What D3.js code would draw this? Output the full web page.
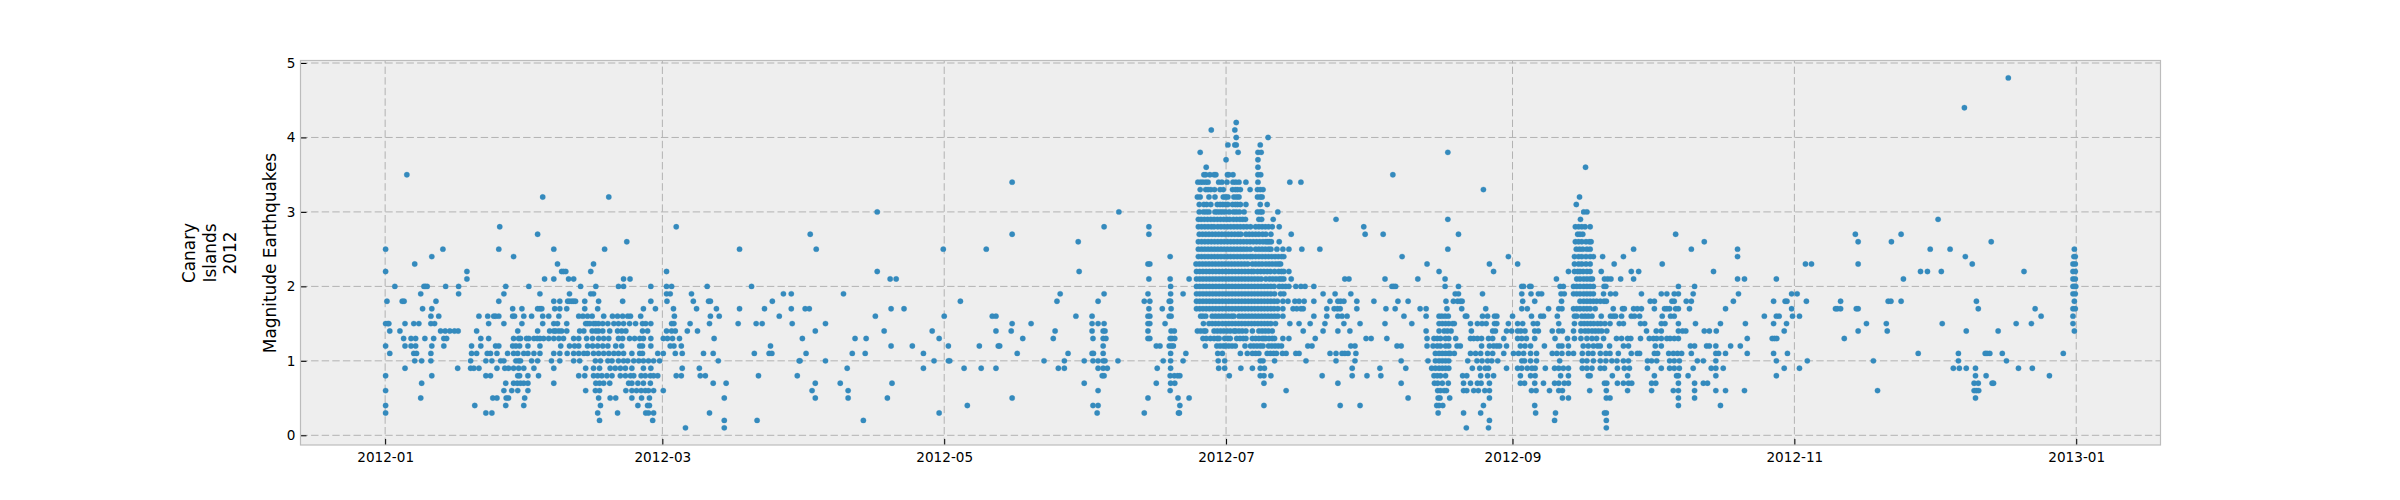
<!DOCTYPE html>
<html><head><meta charset="utf-8"><style>html,body{margin:0;background:#fff}svg{display:block}text{font-family:"DejaVu Sans",sans-serif;fill:#000}</style>
<script src="https://cdn.jsdelivr.net/npm/d3@7"></script></head><body><svg id="c" width="2400" height="500"></svg>
<script>
// Days since 2012-01-01 of each event, one array per magnitude
const mag48=[351.3];
const mag44=[341.8];
const mag42=[184.2];
const mag41=[178.8,183.9];
const mag40=[184.2,191.1];
const mag39=[182.4,183.9,184.2,189.4];
const mag38=[176.4,184.6,188.9,189.6,230];
const mag37=[182,188.9];
const mag36=[177.7,188.9,259.8];
const mag35=[4.7,177.2,177.6,178.5,179.4,179.8,182.3,182.6,183.5,188.9,189.5,218.1];
const mag34=[135.7,175.9,176.5,177,177.6,178.1,180.4,181.1,182.2,183.5,184.1,184.8,186.3,188.9,195.8,198.2];
const mag33=[176.4,177.6,178.1,178.7,179.5,180.7,181.4,183.4,184,184.5,185.1,187.2,188.8,189.4,190,237.7];
const mag32=[34.1,48.4,175.8,176.4,178.3,179.6,181.4,181.9,182.4,183.7,184.3,184.8,188.8,189.4,189.8,258.5];
const mag31=[176.2,177.2,177.8,178.7,180.1,180.7,181.3,181.9,182.4,183.4,184,184.5,185.1,186.3,189.4,190.9,257.8];
const mag30=[106.5,158.8,176.2,177.1,177.7,178.3,179.6,180.1,180.7,181.3,181.9,182.7,183.6,184.2,184.9,185.9,188.8,189.4,189.8,193.2,259.4,260.1];
const mag29=[176,176.6,177.3,178,178.7,179.4,180.1,180.8,181.5,182.2,182.8,183.6,184.3,185,185.6,186.2,189.1,189.7,192.2,205.8,230,258.7,336.1];
const mag28=[24.8,63,155.6,165.3,176,176.7,177.4,178.1,178.8,179.4,180.2,180.9,181.6,182.3,183,183.7,184.4,185.1,185.8,186.5,187.3,188.4,189.1,189.8,190.5,191.2,192,193.5,211.8,257.6,258.3,259,259.7,260.8];
const mag27=[33,92,135.7,165.3,176.2,176.9,177.6,178.3,179,179.7,180.4,181.1,181.8,182.5,183.2,183.9,184.6,185.2,186.3,187,187.7,188.4,189.1,189.9,190.6,191.7,196.1,212.1,216,232.3,258.1,258.6,259.2,279.3,318.2,328.1];
const mag26=[52.3,150,176,176.7,177.4,178.1,178.8,179.5,180.2,180.9,181.6,182.3,183,183.7,184.4,185.1,185.8,186.5,187.2,187.9,188.6,189.3,190,190.6,191,191.4,191.8,193.5,257.6,258.3,259,259.9,260.6,261,285.5,318.8,326,347.6];
const mag25=[0.1,12.5,24.6,36.5,47.5,76.7,93.3,120.8,130.1,176,176.7,177.4,178.1,178.8,179.5,180.2,180.9,181.6,182.3,183,183.7,184.4,185.1,185.8,186.5,187.3,188.4,189.1,189.8,190.5,191.2,191.7,193,194.3,195.6,198.4,202.3,230,257.8,258.5,259.2,260.1,260.8,270.2,282.7,292.7,334.4,338.7,365.6];
const mag24=[10.1,27.8,169.9,176,176.7,177.4,178.1,178.8,179.5,180.2,180.9,181.6,182.3,183,183.7,184.4,185.1,185.8,186.5,187.2,187.7,188.4,189.1,189.8,190.5,191.2,191.9,192.6,193.3,194,194.5,220.1,243.1,257.4,258.3,259,259.9,260.8,261.5,263.5,268,292.7,342,365.5,365.8];
const mag23=[6.4,37.3,45.1,165.1,165.5,175.5,176.2,176.9,177.6,178.3,179,179.7,180.4,181.1,181.8,182.5,183.2,183.9,184.6,185.3,186,186.7,187.7,188.4,189.1,189.8,190.6,191.3,192,192.7,193.3,193.8,225.5,239,245.1,257.4,258.3,259,259.9,260.8,266,276.4,307.4,308.7,318.8,343.5,365.3,365.8];
const mag22=[0.1,17.7,38.2,38.6,39.1,44.5,60.9,106.5,150.2,175.6,176.3,177,177.7,178.4,179.1,179.8,180.5,181.2,181.9,182.6,183.3,184,184.7,185.4,186.1,186.8,187.5,188,188.8,189.5,190.2,190.9,191.6,192.5,193.4,194,194.5,195.6,228.1,239.9,256.1,257.4,258.1,258.6,259.3,260.1,260.8,263.2,269.7,271.3,287.5,332.3,333.8,336.8,354.7,365.3,365.8];
const mag21=[17.7,34.5,36.5,39.7,40.8,51.6,53,109.3,110.6,165.3,169.9,174,175.6,176.3,177,177.7,178.4,179.1,179.8,180.5,181.2,181.9,182.6,183.3,184,184.7,185.4,186.1,186.8,187.5,188.2,188.9,189.6,190.6,191.4,192.1,192.8,193.5,194,194.5,196.1,207.7,208.6,216.4,223.5,229.4,253.5,257.9,258.6,259.4,260.1,260.8,261.3,263.9,264.6,265.3,267.4,270.2,292.7,294.2,301.1,328.6,365.3,365.8];
const mag20=[2.1,8.4,8.7,9.1,13.1,15.9,26.1,31.1,42.3,45.6,50.5,51.6,57.5,60.9,62,69.7,79.3,170,175.6,176.3,177,177.7,178.4,179.1,179.8,180.5,181.2,181.9,182.6,183.3,184,184.7,185.4,186.1,186.8,187.5,188.2,188.9,189.6,190.3,191,191.7,192.4,193.5,194.2,194.9,195.6,197.1,198.2,199.1,201,217.9,218.3,218.7,229.4,232.3,246,246.4,247.7,248,254.3,255,257.2,257.9,258.6,259.4,260.1,260.8,261.5,263.8,264.2,279.9,283.4,365.3,365.6,365.9];
const mag19=[7.7,15.9,25.7,33.5,39.9,44.5,45.1,60.9,61.7,66.3,86.2,87.9,99.2,146.1,155.6,165.1,170,172.7,175.6,176.3,177,177.7,178.4,179.1,179.8,180.5,181.2,181.9,182.6,183.3,184,184.7,185.4,186.1,186.8,187.5,188.2,188.9,189.6,190.3,191,191.7,192.5,193.8,194.5,203,205.6,209,231.6,232.3,237.5,246,248,249.6,250.3,254.5,255.2,257.2,257.9,258.6,259.4,260.1,260.8,261.5,263.7,265.2,266.3,271.9,276.2,277.4,279,279.9,283.1,292.9,304.4,305.6,365.3,365.8];
const mag18=[0.4,3.7,4.1,11,24.6,36.5,37.8,39.5,39.9,40.4,40.8,41.2,43.2,46.2,51.4,57.5,61,66.7,70,70.4,83.8,124.5,145.4,154.3,164.3,165.5,169.7,170,175.6,176.3,177,177.7,178.4,179.1,179.8,180.5,181.2,181.9,182.6,183.3,184,184.7,185.4,186.1,186.8,187.5,188.2,188.9,189.6,190.3,191,191.7,192.4,193.1,194.3,195.4,196.9,197.8,198.9,201,204.5,206.2,206.8,207.5,210.3,214,219.2,221.4,229.6,231.2,232.1,232.7,233.1,246.2,248.8,254.6,258.6,259.4,260.1,260.8,261.5,262.2,263,263.8,264.3,273.8,274.7,278.5,279,281.6,282.7,291.8,300.5,303,303.4,307.6,315,325.3,325.9,328.1,344.4,365.6];
const mag17=[8.1,10.1,27.6,29.6,33,33.5,33.9,36.7,37.8,39.3,43.2,46,55.9,58.5,62.4,67.4,71.7,76.7,82.1,87.9,90.9,91.8,109.5,112.3,165.3,168.2,170.1,175.6,176.3,177,177.7,178.4,179.1,179.8,180.5,181.2,181.9,182.6,183.3,184,184.7,185.4,186.1,186.8,187.5,188.2,188.9,189.6,190.3,191,191.7,192.4,193.2,194.3,196.5,197.3,198.2,198.7,203.8,205.4,206.1,206.7,210.3,216.6,218.6,224,225.3,229.8,233,238.2,246,247.2,251.8,254,254.7,257.2,257.9,258.6,259.4,260.1,260.8,261.9,265.8,267.8,268.2,270.2,271,271.9,274.7,276.9,277.4,278,279.3,279.9,282.3,290.1,304.4,313.9,314.3,315,318.4,318.8,344.8,357.1,365.3,365.8];
const mag16=[9.9,11.6,20.3,22.2,23.5,23.9,24.6,27.6,28,30,31.7,34.1,35.4,37.6,41.9,42.8,43.8,44.8,47.3,49.2,50.3,51.4,52.5,53.1,55.3,62.6,70.4,72.3,85.3,106.1,121,131.4,132.2,149.5,153,165.1,165.5,169.7,170.1,176.5,177,177.6,179,179.7,180.4,181.1,181.8,182.5,183.2,183.7,184.8,185.5,186.2,186.9,187.6,188.3,189,189.7,190.4,191.1,191.8,192.5,193.2,194.3,201,203.8,206.2,207.1,208.2,220.5,225.3,228.1,228.7,229.4,230.1,233.8,234.1,237.5,238.6,240.1,240.6,244,248.1,250.1,250.7,253.7,257.4,257.9,259,259.7,260.4,261.2,263.2,265.2,265.8,266.3,267.6,269.7,270.4,271.5,276.4,278.2,279,298.5,301.1,301.7,304.6,306.1,358.4,365.3];
const mag15=[0.1,0.6,0.8,4.3,6.2,7.3,9.9,10.7,22.4,25.7,29.6,34.1,36.5,37.3,39.3,43.4,43.8,44.3,45.1,45.6,46.2,47.1,48.2,49.5,50.5,51.6,52.9,54.2,55.7,56.4,57.5,62,62.5,66,70.2,76.4,80.3,81.6,88.1,95.3,135.7,139.8,153,154.3,155.6,165.1,165.5,168.8,177.1,178.3,179,179.7,180.4,181.2,181.9,182.6,183.3,184,184.7,185.4,186.1,186.8,187.5,188.2,188.9,189.6,190.3,191,191.7,192.7,195.8,197.8,200.2,203.4,207.5,211,216.4,222.2,228.1,228.8,229.5,230.2,231,231.4,234.9,236.4,237.4,238.3,240.1,240.6,243.1,245.1,246.2,248.5,249.4,254,257.4,258.8,259.5,260.2,260.9,261.6,262.4,263.1,264,265.1,267.1,268,271.7,272.6,276.2,277,279.9,283.6,289,294.4,300.5,303.3,320.6,324.9,337,353,356.3,365.3];
const mag14=[1,3.2,12,13,14,15,15.8,19.8,28.7,33,35.6,36.5,36.9,37.6,38.2,39.3,42.1,43,44.8,45.6,46.2,47.1,48.6,50.3,51.2,52.1,55.7,56.8,60.9,62,62.8,65.4,67.6,93.1,108,118.4,132.2,135.5,145,153,155.4,155.8,165.1,170.1,170.8,175.8,176.5,177.2,177.6,179.4,180.1,180.8,181.5,182.2,182.9,183.7,184.1,184.8,185.5,186.3,187.7,189.1,189.8,190.5,191.2,192,198.7,203,206.2,208.8,225.3,228.1,229.2,229.9,230.7,235.1,239.7,240.3,242.7,243.8,245.1,245.8,246.7,248.8,249.6,252.6,254,254.8,257.2,258.8,259.7,260.4,261.2,261.9,262.6,263.3,264.4,273,275.1,276.2,279.9,280.8,281.5,285.5,286.6,288.1,302.8,318.8,325.1,342.2,349.1,365.6];
const mag13=[4,5.6,6.6,8.6,10.5,12.7,13.3,20.7,22.4,27.8,28.9,29.3,30.6,31.1,32.2,32.9,33.5,34.3,35.4,36.5,37.6,38.6,40.8,41.9,43.6,44.9,46.2,47.3,48.4,50.5,51.4,52.9,54,55.1,55.9,57.5,60.2,61.1,62.2,63.7,71.2,90.3,101.7,104.1,119.9,138,144.6,153.2,155.4,156,165.1,165.5,169.9,170.3,170.9,177,177.7,178.6,179.4,180.1,180.5,181.7,182.4,182.9,184.3,185,185.7,186.3,187.7,188.4,189.1,189.8,190.2,190.6,191.3,192,192.5,194.3,195.6,201.3,212.3,213.4,216.8,225.5,227,227.7,228.4,229.5,230.2,231.7,234.9,235.6,236.4,237.3,238.8,239.7,242.1,245.1,246,247,248.8,253.2,255.9,257.4,258.8,260.1,261.2,262.2,263.7,266.5,267.6,268.9,269.6,271.7,273.6,274.5,275.2,276.2,277.4,278.1,279,279.9,294.8,300.2,300.7,301.2,315.8];
const mag12=[0.1,4.3,5.6,6.6,10.1,12.7,18.7,20.7,23.9,24.6,27.6,28.3,29.1,30.9,33.5,38,39.9,41,41.9,43.8,44.9,46,47.1,48.2,49.9,51.2,55.1,55.7,57.5,61.7,62.5,64.1,83.4,109.5,114.1,121.9,128.6,132.7,133,155.4,166.9,167.7,169.7,170.2,170.6,177.5,180,180.7,181.4,181.9,182.6,183.3,184,186.1,187.3,188,188.7,189.4,190,191.2,191.9,192.6,193.3,194,199.7,200.6,209,209.9,219,219.9,225.5,226.8,227.7,228.4,229.5,230.2,232,232.7,237.3,239,239.9,240.6,241.2,242.7,245.7,246.7,247.9,250.9,254,254.7,256.1,259.3,260.4,261.5,262.4,263,265,268,269.1,274.9,276.2,282.5,283.4,286,286.6,288,291.2,293.3];
const mag11=[1,6.2,6.8,9.9,18.7,19.8,22.1,22.8,24.2,26.5,27.8,28.7,30,30.9,32.2,33.5,36.5,37.8,39.4,40.8,41.9,43,43.8,45.1,46.2,47.3,48.4,49.5,50.5,51.6,53.4,55.1,55.7,59,60.2,62.8,64.3,68.9,71,79.9,83.1,83.7,91.1,101.1,103.9,116.5,136.8,147.8,153,153.3,155.4,170,173.3,180.2,181.2,185.1,186.6,187.7,188.4,189.1,190.9,191.6,192.3,192.9,194.2,195,197.1,197.8,204.5,205.8,207.1,207.7,208.4,210.1,227.3,228.1,228.8,229.5,230.2,230.5,231.4,234.9,236,237.1,238.6,239.7,242.1,244.2,245.3,246.4,247.9,249.2,252.6,253.6,254.7,256.1,257.2,259.1,260.4,261.4,263,264.2,265.1,266.9,269.7,271,271.5,274.7,275.4,277.8,278.8,279.7,280.6,282.7,288,288.6,290.1,294.8,300.5,303.5,331.8,340.5,346.3,346.7,347.3,350,363.2];
const mag10=[6.4,7.9,9.9,18.5,21.8,23.1,25,25.7,28.3,28.9,29.3,31.7,33,36,37.8,40.8,42.1,45.5,46.6,48.2,49.1,50.5,51.6,52.5,53.8,54.9,55.9,57,58.1,59.4,72.1,89.6,89.8,95.3,118.8,121.9,122.2,142.6,147,151.3,153.2,154.3,155.4,155.8,158.6,168.4,170,172.7,180.3,181.7,189.4,190,192.5,199.3,205.8,209.9,219.9,225.7,227.3,228.1,228.8,229.5,230.2,234.3,236.3,237.4,238.6,239.5,240.8,246,246.6,247.9,249.2,254.2,259.1,260.1,261.5,263,264.2,265.5,266.6,268,269.1,273.2,274.1,275.2,278,279,280.1,284,285.3,288,301.1,307.8,322.1,340.5,350.9];
const mag09=[4.3,15.7,18.5,19.2,20.3,24.2,25.9,26.7,27.8,28.9,30,32.2,36.5,43.4,45.1,46.4,48.7,49.8,50.9,52,53.4,55.9,57.5,64.3,68,100,116.5,125.3,129,132.2,145.7,147,154.3,155.4,156.3,167.1,170,180.4,181.7,185.2,187.7,189.4,190.3,209.3,215.3,220.9,226.5,227.3,228.1,228.8,229.5,230.2,235.3,236.9,238.1,238.8,242.7,245.1,246,247.2,248.2,248.9,251.1,253.1,254,255,256.1,259.1,260.1,261.2,263,263.9,266.7,268.2,269.3,273.2,276.2,278,279,280.1,283.1,287,288,289.6,302.8,306.1,339.4,340.7,342.2,344.2,353.5,356.5];
const mag08=[0.1,10.1,21.8,22.8,28.7,29.1,30.9,33.2,41.9,43.2,45.1,46,46.9,48,49.1,50.9,52,53.1,53.8,55.4,56.3,57.4,58.1,59,63,64.1,68.2,69.3,80.8,89.2,155.2,155.6,169.9,170.8,171.5,172,182.7,189.4,190.2,191.7,202.8,209.3,212.5,215.5,227,227.7,228.4,229.5,233.2,234.1,237.1,238.6,239.9,245.7,247.9,248.9,254.4,256.1,260.4,260.8,265.6,268.9,274.7,279.5,279.9,282,288,301.1,344.2,346.5,360.2];
const mag07=[7.9,26.1,27.8,28.6,29.3,30,30.9,36.5,45.6,46.4,47.3,48.6,52.7,53.4,54.7,55.9,57.4,71,73.8,93.1,98.5,109.7,151.3,166.9,170,170.9,190.2,206.2,219.9,227.1,227.8,228.8,230.1,233.4,234.9,236.4,237.2,239,245.7,246.6,248.8,250.7,253.1,254,255.2,256.1,263.9,264.4,266.7,268,269.1,269.8,274.1,275,279.9,283.4,285.3,286.2,343.9,344.8,347.8,348.1];
const mag06=[0.1,25.7,27.4,28.7,30.9,43.4,45.5,46.4,52.1,53.4,54.4,55.4,56.3,57,58.1,60.2,92.4,100.2,154.3,169.9,195,227.8,228.4,229.2,229.7,233.4,234.1,235.6,236.6,238,239,248.1,249.1,252,254,254.8,260.7,264.3,268.9,274.1,278.8,279.9,283.4,288,290.1,294.2,323,343.9,344.4,344.9];
const mag05=[7.7,23.3,24.2,26.2,26.7,30.2,46.2,48.7,49.9,53.4,55.5,57.2,73.4,93.1,100.2,108.7,135.7,165.1,171.6,174,221.4,227.9,228.3,230.4,239,254.8,256.1,264.3,265.1,279.9,283.4,344.2];
const mag04=[0.1,19.4,26.1,30,46.6,54.7,56.8,57.2,126,153.2,154.3,172,190.2,206.7,211,227.6,228.1,228.9,237.7,248.8,279.9,289];
const mag03=[0.1,21.8,23.1,46,50.3,56.4,57,58.1,70.2,119.9,154.1,164.3,171.7,171.9,227.9,233.4,237.1,249,253.3,263.9,264.3];
const mag02=[46.4,57.9,73.4,80.5,103.5,239,253.1,264.3];
const mag01=[65,73.4,234,238.8,264.3];
const magnitudeRows=[[0.1,mag01],[0.2,mag02],[0.3,mag03],[0.4,mag04],[0.5,mag05],[0.6,mag06],[0.7,mag07],[0.8,mag08],[0.9,mag09],[1.0,mag10],[1.1,mag11],[1.2,mag12],[1.3,mag13],[1.4,mag14],[1.5,mag15],[1.6,mag16],[1.7,mag17],[1.8,mag18],[1.9,mag19],[2.0,mag20],[2.1,mag21],[2.2,mag22],[2.3,mag23],[2.4,mag24],[2.5,mag25],[2.6,mag26],[2.7,mag27],[2.8,mag28],[2.9,mag29],[3.0,mag30],[3.1,mag31],[3.2,mag32],[3.3,mag33],[3.4,mag34],[3.5,mag35],[3.6,mag36],[3.7,mag37],[3.8,mag38],[3.9,mag39],[4.0,mag40],[4.1,mag41],[4.2,mag42],[4.4,mag44],[4.8,mag48]];
const xTickLabels=["2012-01","2012-03","2012-05","2012-07","2012-09","2012-11","2013-01"];
const yTicks=[0,1,2,3,4,5];
const yLabelLines=["Canary","Islands","2012"];
const yLabel="Magnitude Earthquakes";

const DAY=864e5,t0=Date.UTC(2012,0,1);
const L=300.5,R=2160.5,T=60.5,B=445;
const svg=d3.select("#c");
const x=d3.scaleUtc().domain([new Date(t0-18.32*DAY),new Date(t0+384.24*DAY)]).range([L,R]);
const y=d3.scaleLinear().domain([0,5]).range([435.3,63]);
const fmt=d3.utcFormat("%Y-%m"),parse=d3.utcParse("%Y-%m");
const xTicks=xTickLabels.map(parse);

svg.append("rect").attr("x",L).attr("y",T).attr("width",R-L).attr("height",B-T).attr("fill","#eeeeee");
const grid=svg.append("g").attr("stroke","#b2b2b2").attr("stroke-width",1).attr("stroke-dasharray","7.4,3.2");
grid.selectAll(".gx").data(xTicks).join("line").attr("x1",d=>x(d)).attr("x2",d=>x(d)).attr("y1",B).attr("y2",T);
grid.selectAll(".gy").data(yTicks).join("line").attr("x1",L).attr("x2",R).attr("y1",d=>y(d)).attr("y2",d=>y(d));

const pts=magnitudeRows.flatMap(([m,ds])=>ds.map(d=>({m,d})));
svg.append("g").selectAll("circle").data(pts).join("circle")
 .attr("cx",p=>x(new Date(t0+p.d*DAY))).attr("cy",p=>y(p.m)).attr("r",2.7).attr("fill","#348ABD")
 .attr("stroke","#348ABD").attr("stroke-opacity",0.35).attr("stroke-width",0.8);

const ax=svg.append("g").attr("transform",`translate(0,${B})`).call(d3.axisBottom(x).tickValues(xTicks).tickFormat(fmt).tickSizeInner(-6).tickSizeOuter(0).tickPadding(7));
const ay=svg.append("g").attr("transform",`translate(${L},0)`).call(d3.axisLeft(y).tickValues(yTicks).tickFormat(d3.format("d")).tickSizeInner(-6).tickSizeOuter(0).tickPadding(5));
[ax,ay].forEach(a=>{a.select(".domain").remove();a.selectAll("text").attr("font-size",13.6).attr("font-family","DejaVu Sans").attr("fill","#000");a.selectAll("line").attr("stroke","#000").attr("stroke-width",1);});
svg.append("rect").attr("x",L).attr("y",T).attr("width",R-L).attr("height",B-T).attr("fill","none").attr("stroke","#bcbcbc").attr("stroke-width",1.2);

const yc=253;
[[195,yLabelLines[0]],[215.5,yLabelLines[1]],[235.5,yLabelLines[2]],[276,yLabel]].forEach(([bx,s])=>{
 svg.append("text").attr("transform",`translate(${bx},${yc}) rotate(-90)`).attr("text-anchor","middle").attr("font-size",16.9).text(s);
});
</script></body></html>
